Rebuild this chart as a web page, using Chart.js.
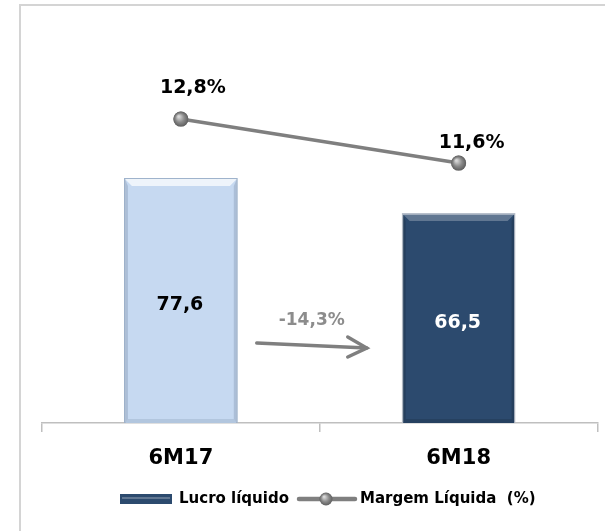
<!DOCTYPE html>
<html>
<head>
<meta charset="utf-8">
<script src="https://cdn.jsdelivr.net/npm/chart.js@4.4.0/dist/chart.umd.min.js"></script>
<style>
  html, body { margin: 0; padding: 0; background: #fff; }
  #chart { display: block; }
</style>
</head>
<body>
<canvas id="chart" width="605" height="531"></canvas>
<script>
// values
const categories = ['6M17', '6M18'];
const lucroLiquido = [77.6, 66.5];
const margemLiquida = [12.8, 11.6];
const lucroLabels = ['77,6', '66,5'];
const margemLabels = ['12,8%', '11,6%'];
const variationLabel = '-14,3%';

const FONT = "'DejaVu Sans', sans-serif";
const barColors = ['#c6d9f1', '#2c4a6e'];
const barBorders = ['#9fb3cc', '#b8c0cc'];
const lineColor = '#7f7f7f';

function sphere(ctx, x, y, r) {
    const g = ctx.createRadialGradient(x - r * 0.3, y - r * 0.35, r * 0.1, x, y, r);
    g.addColorStop(0, '#d8d8d8');
    g.addColorStop(0.55, '#8a8a8a');
    g.addColorStop(1, '#5e5e5e');
    ctx.beginPath();
    ctx.arc(x, y, r, 0, Math.PI * 2);
    ctx.fillStyle = g;
    ctx.fill();
}

// frame, bevels, value labels, variation arrow and legend
const decorations = {
    id: 'decorations',
    beforeDraw(chart) {
        const ctx = chart.ctx;
        ctx.save();
        ctx.strokeStyle = '#d4d4d4';
        ctx.lineWidth = 2;
        ctx.beginPath();
        ctx.moveTo(20, 531);
        ctx.lineTo(20, 5);
        ctx.lineTo(605, 5);
        ctx.stroke();
        ctx.restore();
    },
    afterDatasetsDraw(chart) {
        const ctx = chart.ctx;
        const bars = chart.getDatasetMeta(1).data;
        const points = chart.getDatasetMeta(0).data;
        ctx.save();

        // bevel on bars
        bars.forEach((b, i) => {
            const l = b.x - b.width / 2, r = b.x + b.width / 2, t = b.y, bt = b.base;
            const bv = 8;
            ctx.fillStyle = i === 0 ? 'rgba(255,255,255,0.7)' : 'rgba(255,255,255,0.25)';
            ctx.beginPath();
            ctx.moveTo(l + 1, t + 1); ctx.lineTo(r - 1, t + 1); ctx.lineTo(r - bv, t + bv); ctx.lineTo(l + bv, t + bv);
            ctx.closePath(); ctx.fill();
            ctx.fillStyle = i === 0 ? 'rgba(90,110,140,0.25)' : 'rgba(0,0,0,0.15)';
            ctx.beginPath();
            ctx.moveTo(l + 1, t + 1); ctx.lineTo(l + 4, t + bv); ctx.lineTo(l + 4, bt - 4); ctx.lineTo(l + 1, bt);
            ctx.closePath(); ctx.fill();
            ctx.beginPath();
            ctx.moveTo(r - 1, t + 1); ctx.lineTo(r - 4, t + bv); ctx.lineTo(r - 4, bt - 4); ctx.lineTo(r - 1, bt);
            ctx.closePath(); ctx.fill();
            ctx.fillStyle = i === 0 ? 'rgba(90,110,140,0.18)' : 'rgba(0,0,0,0.12)';
            ctx.beginPath();
            ctx.moveTo(l + 4, bt - 4); ctx.lineTo(r - 4, bt - 4); ctx.lineTo(r - 1, bt); ctx.lineTo(l + 1, bt);
            ctx.closePath(); ctx.fill();
        });

        // spheres on the line
        points.forEach(p => sphere(ctx, p.x, p.y, 7.5));

        ctx.textAlign = 'center';
        ctx.textBaseline = 'middle';

        // bar values
        ctx.font = 'bold 19px ' + FONT;
        bars.forEach((b, i) => {
            ctx.fillStyle = i === 0 ? '#000' : '#fff';
            ctx.fillText(lucroLabels[i], b.x - 1, (b.y + b.base) / 2 + 5);
        });

        // margin labels
        ctx.fillStyle = '#000';
        ctx.font = 'bold 19px ' + FONT;
        const offs = [[12, -31], [13, -20]];
        points.forEach((p, i) => {
            ctx.fillText(margemLabels[i], p.x + offs[i][0], p.y + offs[i][1]);
        });

        // variation arrow
        const mid = (bars[0].x + bars[1].x) / 2;
        const base = chart.chartArea.bottom;
        ctx.fillStyle = '#8c8c8c';
        ctx.font = 'bold 17px ' + FONT;
        ctx.fillText(variationLabel, mid - 8, base - 102);
        ctx.strokeStyle = '#7f7f7f';
        ctx.lineWidth = 3.5;
        ctx.lineCap = 'round';
        ctx.beginPath();
        ctx.moveTo(mid - 63, base - 80);
        ctx.lineTo(mid + 47, base - 75);
        ctx.stroke();
        ctx.beginPath();
        ctx.moveTo(mid + 28, base - 86);
        ctx.lineTo(mid + 47, base - 75);
        ctx.lineTo(mid + 28, base - 66);
        ctx.stroke();

        // legend
        const ly = 499;
        const ds = chart.data.datasets;
        ctx.fillStyle = barColors[1];
        ctx.fillRect(120, ly - 5, 52, 10);
        ctx.fillStyle = 'rgba(255,255,255,0.25)';
        ctx.fillRect(122, ly - 2, 48, 2);
        ctx.fillStyle = '#000';
        ctx.font = 'bold 15px ' + FONT;
        ctx.textAlign = 'left';
        ctx.fillText(ds[1].label, 179, ly);
        ctx.strokeStyle = lineColor;
        ctx.lineWidth = 4.5;
        ctx.beginPath();
        ctx.moveTo(299, ly);
        ctx.lineTo(355, ly);
        ctx.stroke();
        sphere(ctx, 326, ly, 6.5);
        ctx.fillStyle = '#000';
        ctx.fillText(ds[0].label, 360, ly);

        ctx.restore();
    }
};

new Chart(document.getElementById('chart'), {
    data: {
        labels: categories,
        datasets: [
            {
                type: 'line',
                label: 'Margem Líquida  (%)',
                data: margemLiquida,
                yAxisID: 'y2',
                borderColor: lineColor,
                borderWidth: 3.5,
                pointRadius: 7.5,
                pointBackgroundColor: '#8a8a8a',
                pointBorderWidth: 0,
                order: 0
            },
            {
                type: 'bar',
                label: 'Lucro líquido',
                data: lucroLiquido,
                yAxisID: 'y',
                backgroundColor: barColors,
                borderColor: barBorders,
                borderWidth: 1.5,
                barPercentage: 0.41,
                categoryPercentage: 1,
                order: 1
            }
        ]
    },
    options: {
        responsive: false,
        animation: false,
        layout: { padding: { left: 42, right: 7, top: 30, bottom: 0 } },
        plugins: { legend: { display: false }, tooltip: { enabled: false } },
        scales: {
            x: {
                offset: true,
                grid: { offset: true, drawOnChartArea: false, drawTicks: true, tickLength: 9, color: '#bfbfbf', lineWidth: 1.5 },
                border: { color: '#bfbfbf', width: 1.5 },
                ticks: { color: '#000', font: { family: FONT, size: 21, weight: 'bold' }, padding: 14 },
                afterFit: s => { s.height = 108; }
            },
            y: { display: false, min: 0, max: 124.5 },
            y2: { display: false, position: 'right', min: 4.51, max: 15.23 }
        }
    },
    plugins: [decorations]
});
</script>
</body>
</html>
